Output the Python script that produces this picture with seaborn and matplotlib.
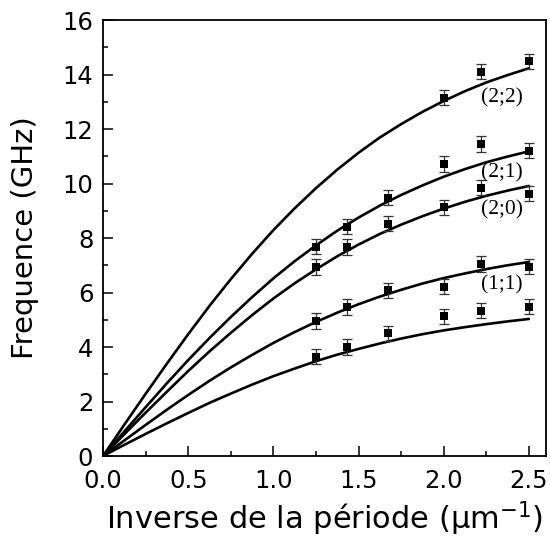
import numpy as np
import pandas as pd
import matplotlib
matplotlib.use("Agg")
import matplotlib.pyplot as plt
import seaborn as sns
from matplotlib.ticker import MultipleLocator, FormatStrFormatter

# ---- data ----
modes = ["(2;2)", "(2;1)", "(2;0)", "(1;1)", "(1;0)"]

x_meas = [1.25, 1.43, 1.67, 2.0, 2.22, 2.5]
f_22 = [None, None, None, 13.15, 14.1, 14.48]
f_21 = [7.68, 8.42, 9.48, 10.72, 11.45, 11.2]
f_20 = [6.94, 7.67, 8.52, 9.12, 9.85, 9.62]
f_11 = [4.95, 5.47, 6.08, 6.22, 7.05, 6.95]
f_10 = [3.64, 4.0, 4.5, 5.12, 5.33, 5.48]
f_err = [0.28, 0.28, 0.28, 0.28, 0.28, 0.28]

x_fit = [0.0, 0.125, 0.25, 0.375, 0.5, 0.625, 0.75, 0.875, 1.0, 1.125, 1.25,
         1.375, 1.5, 1.625, 1.75, 1.875, 2.0, 2.125, 2.25, 2.375, 2.5]
fit_22 = [0, 1.15, 2.28, 3.39, 4.47, 5.51, 6.49, 7.42, 8.29, 9.09, 9.83,
          10.51, 11.13, 11.69, 12.18, 12.63, 13.03, 13.39, 13.71, 13.98, 14.23]
fit_21 = [0, 0.90, 1.79, 2.67, 3.52, 4.33, 5.10, 5.83, 6.52, 7.15, 7.73,
          8.27, 8.75, 9.19, 9.58, 9.93, 10.25, 10.53, 10.78, 10.99, 11.18]
fit_20 = [0, 0.80, 1.59, 2.36, 3.12, 3.84, 4.52, 5.17, 5.78, 6.34, 6.85,
          7.33, 7.76, 8.15, 8.49, 8.80, 9.08, 9.33, 9.55, 9.74, 9.91]
fit_11 = [0, 0.57, 1.14, 1.70, 2.24, 2.76, 3.25, 3.71, 4.15, 4.55, 4.92,
          5.26, 5.57, 5.85, 6.10, 6.33, 6.53, 6.70, 6.86, 7.00, 7.12]
fit_10 = [0, 0.41, 0.81, 1.20, 1.58, 1.95, 2.29, 2.62, 2.93, 3.21, 3.48,
          3.72, 3.93, 4.13, 4.31, 4.47, 4.61, 4.73, 4.84, 4.94, 5.03]

label_modes = ["(2;2)", "(2;1)", "(2;0)", "(1;1)"]
label_x = [2.34, 2.34, 2.34, 2.34]
label_y = [13.15, 10.4, 9.02, 6.27]

x_ticks = [0.0, 0.5, 1.0, 1.5, 2.0, 2.5]
y_ticks = [0, 2, 4, 6, 8, 10, 12, 14, 16]

# ---- build tables ----
fits = [fit_22, fit_21, fit_20, fit_11, fit_10]
meas = [f_22, f_21, f_20, f_11, f_10]
curve_df = pd.DataFrame({
    "x": np.tile(x_fit, len(modes)),
    "f": np.concatenate(fits),
    "mode": np.repeat(modes, len(x_fit)),
})
rows = []
for m, vals in zip(modes, meas):
    for xv, fv, ev in zip(x_meas, vals, f_err):
        if fv is not None:
            rows.append({"x": xv, "f": fv, "err": ev, "mode": m})
pt_df = pd.DataFrame(rows)

sns.set_style("ticks")
plt.rcParams["font.family"] = ["DejaVu Sans"]
plt.rcParams["mathtext.fontset"] = "dejavusans"
plt.rcParams["text.color"] = "black"
plt.rcParams["axes.labelcolor"] = "black"

fig = plt.figure(figsize=(5.5, 5.41), dpi=100)
ax = fig.add_axes([0.1873, 0.1571, 0.9927 - 0.1873, 0.963 - 0.1571])

sns.lineplot(data=curve_df, x="x", y="f", units="mode", estimator=None,
             color="black", linewidth=1.9, ax=ax, legend=False)
ax.errorbar(pt_df["x"], pt_df["f"], yerr=pt_df["err"], fmt="none",
            ecolor="#333333", elinewidth=0.9, capsize=3.4, capthick=0.9,
            zorder=3)
sns.scatterplot(data=pt_df, x="x", y="f", marker="s", color="black",
                s=28, linewidth=0, ax=ax, legend=False, zorder=4)

for t, lx, ly in zip(label_modes, label_x, label_y):
    ax.text(lx, ly, t, ha="center", va="center", fontsize=15.5,
            family="Liberation Serif", color="black")

ax.set_xlim(0, 2.6)
ax.set_ylim(0, 16)
ax.set_xticks(x_ticks)
ax.set_yticks(y_ticks)
ax.xaxis.set_major_formatter(FormatStrFormatter("%.1f"))
ax.xaxis.set_minor_locator(MultipleLocator(0.25))
ax.yaxis.set_minor_locator(MultipleLocator(1))
ax.tick_params(which="both", direction="in", width=1.1, colors="black",
               labelsize=17.5, top=False, right=False)
ax.tick_params(which="major", length=7)
ax.tick_params(which="minor", length=3.5)
ax.tick_params(axis="y", pad=7)
ax.tick_params(axis="x", pad=9)
for s in ax.spines.values():
    s.set_visible(True)
    s.set_linewidth(1.3)
    s.set_color("black")

ax.set_xlabel("Inverse de la période (µm$^{-1}$)", fontsize=22, labelpad=5)
ax.set_ylabel("Frequence (GHz)", fontsize=21, labelpad=17)

fig.savefig("out.png", dpi=100, facecolor="white")
